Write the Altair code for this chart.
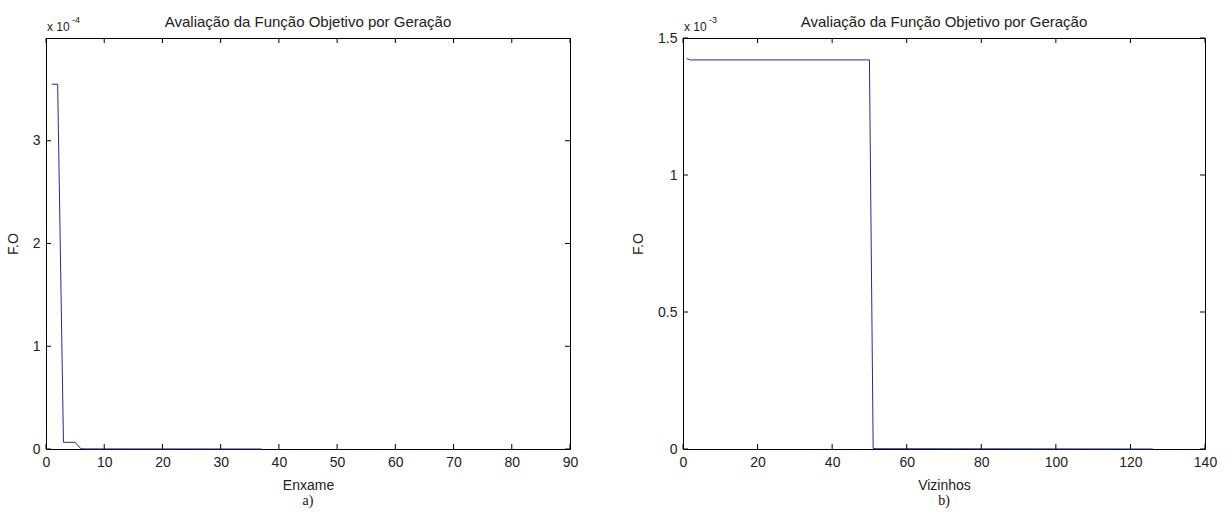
import altair as alt
import pandas as pd

# ---------------- data ----------------
# panel a) : F.O versus Enxame
enxame_x = [1, 2, 3, 4, 5, 6, 7, 37]
enxame_fo = [3.55e-4, 3.55e-4, 6.5e-6, 6.5e-6, 6.5e-6, 2e-7, 1e-7, 0.0]

# panel b) : F.O versus Vizinhos
vizinhos_x = [1, 2, 50, 51, 52, 126]
vizinhos_fo = [1.425e-3, 1.42e-3, 1.42e-3, 2e-6, 1e-6, 0.0]

a_xticks = [0, 10, 20, 30, 40, 50, 60, 70, 80, 90]
a_yticks = [0, 1e-4, 2e-4, 3e-4]
b_xticks = [0, 20, 40, 60, 80, 100, 120, 140]
b_yticks = [0, 0.5e-3, 1.0e-3, 1.5e-3]

titulo = "Avaliação da Função Objetivo por Geração"
ylabel = "F.O"

LINE = "#28288f"
FONT = "Liberation Sans"
TXT = "#222222"


def panel(xs_data, ys_data, xticks, yticks, xmax, ymax, xlabel, label_expr,
          exp_text, letter, W, H):
    df = pd.DataFrame({"x": xs_data, "fo": ys_data})
    xs = alt.Scale(domain=[0, xmax], nice=False, zero=False)
    ys = alt.Scale(domain=[0, ymax], nice=False, zero=False)

    x_axis = alt.Axis(
        values=xticks, title=xlabel, ticks=False, tickSize=0, domain=False,
        grid=False, labelFlush=False, labelFont=FONT, labelFontSize=14,
        labelColor=TXT, labelPadding=6, titleFont=FONT, titleFontSize=14,
        titleFontWeight="normal", titleColor=TXT, titlePadding=9)
    y_axis = alt.Axis(
        values=yticks, title=ylabel, labelExpr=label_expr, ticks=False,
        tickSize=0, domain=False, grid=False, labelFlush=False,
        labelFont=FONT, labelFontSize=14, labelColor=TXT, labelPadding=6,
        titleFont=FONT, titleFontSize=14, titleFontWeight="normal",
        titleColor=TXT, titlePadding=12)

    line = alt.Chart(df).mark_line(color=LINE, strokeWidth=1).encode(
        x=alt.X("x:Q", scale=xs, axis=x_axis, title=xlabel),
        y=alt.Y("fo:Q", scale=ys, axis=y_axis, title=ylabel),
    )

    xt = pd.DataFrame({"t": xticks})
    yt = pd.DataFrame({"t": yticks})
    bottom_ticks = alt.Chart(xt).mark_rule(color="black", strokeWidth=1).encode(
        x=alt.X("t:Q", scale=xs, axis=x_axis, title=xlabel),
        y=alt.value(H), y2=alt.value(H - 5))
    top_ticks = alt.Chart(xt).mark_rule(color="black", strokeWidth=1).encode(
        x=alt.X("t:Q", scale=xs, axis=x_axis, title=xlabel),
        y=alt.value(0), y2=alt.value(5))
    left_ticks = alt.Chart(yt).mark_rule(color="black", strokeWidth=1).encode(
        y=alt.Y("t:Q", scale=ys, axis=y_axis, title=ylabel),
        x=alt.value(0), x2=alt.value(5))
    right_ticks = alt.Chart(yt).mark_rule(color="black", strokeWidth=1).encode(
        y=alt.Y("t:Q", scale=ys, axis=y_axis, title=ylabel),
        x=alt.value(W - 5), x2=alt.value(W))

    texts = pd.DataFrame({"titulo": [titulo], "base": ["x 10"],
                          "expo": [exp_text], "letra": [letter]})
    title_mark = alt.Chart(texts).mark_text(
        font=FONT, fontSize=15, color=TXT, align="center", baseline="alphabetic"
    ).encode(text="titulo:N", x=alt.value(W / 2), y=alt.value(-11))
    base_mark = alt.Chart(texts).mark_text(
        font=FONT, fontSize=12, color=TXT, align="left", baseline="alphabetic"
    ).encode(text="base:N", x=alt.value(1), y=alt.value(-7))
    expo_mark = alt.Chart(texts).mark_text(
        font=FONT, fontSize=9, color=TXT, align="left", baseline="alphabetic"
    ).encode(text="expo:N", x=alt.value(26), y=alt.value(-15))
    letter_mark = alt.Chart(texts).mark_text(
        font="Liberation Serif", fontSize=14, color="#111111", align="center",
        baseline="alphabetic"
    ).encode(text="letra:N", x=alt.value(W / 2), y=alt.value(H + 56))

    return alt.layer(line, bottom_ticks, top_ticks, left_ticks, right_ticks,
                     title_mark, base_mark, expo_mark, letter_mark).properties(
        width=W, height=H)


H = 411
pa = panel(enxame_x, enxame_fo, a_xticks, a_yticks, 90, 4e-4, "Enxame",
           "format(datum.value * 10000, 'd')", "-4", "a)", 524, H)
pb = panel(vizinhos_x, vizinhos_fo, b_xticks, b_yticks, 140, 1.5e-3, "Vizinhos",
           "format(datum.value * 1000, '.2~f')", "-3", "b)", 522, H)

chart = alt.hconcat(pa, pb, spacing=113, bounds="flush").properties(
    padding={"left": 5, "top": 14, "right": 5, "bottom": 2},
    background="white",
).configure_view(stroke="black", strokeWidth=1)

chart.save("out.html", embed_options={"renderer": "svg", "actions": False})
